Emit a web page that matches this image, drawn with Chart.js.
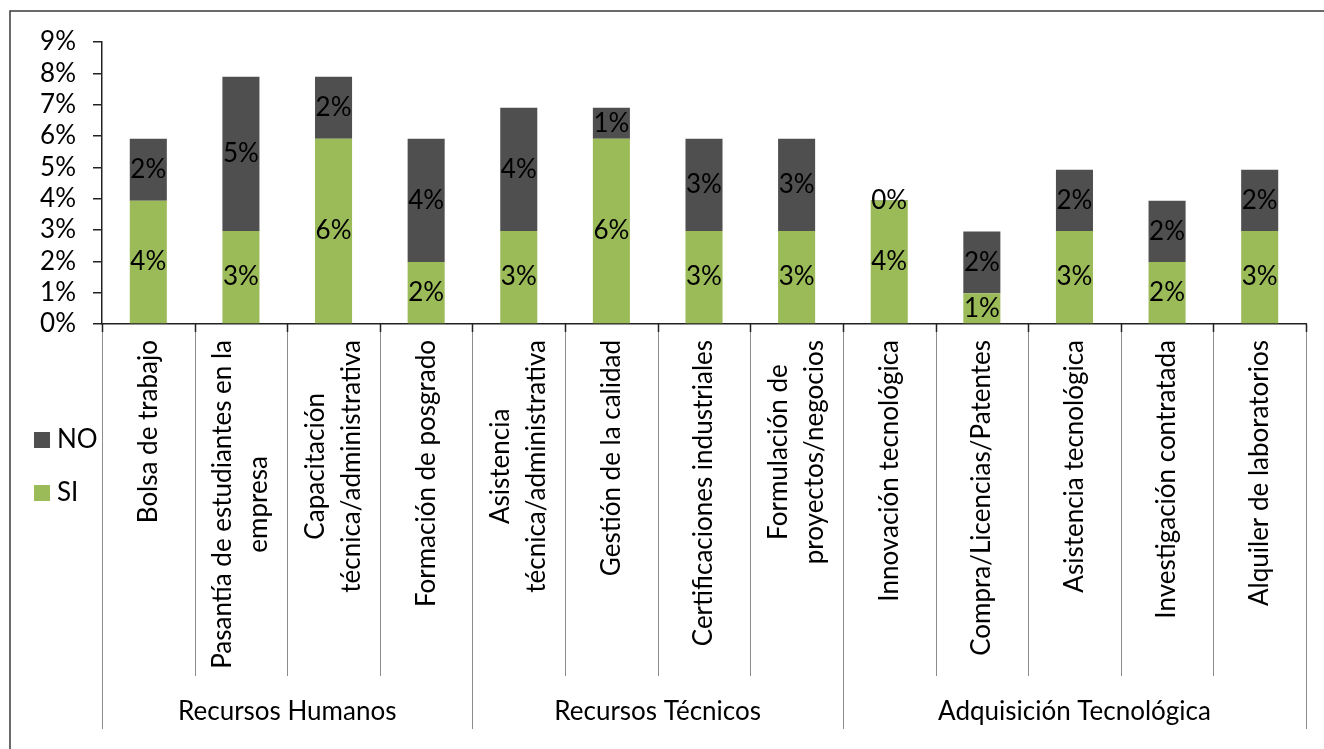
<!DOCTYPE html>
<html>
<head>
<meta charset="utf-8">
<script src="https://cdn.jsdelivr.net/npm/chart.js@4/dist/chart.umd.min.js"></script>
<style>
  html, body { margin: 0; padding: 0; background: #fff; }
  #caja { width: 1324px; height: 749px; }
</style>
</head>
<body>
<div id="caja"><canvas id="grafico"></canvas></div>
<script>
// Categorías (cada una en líneas, como en el eje original)
const categorias = [
  ['Bolsa de trabajo'],
  ['Pasantía de estudiantes en la', 'empresa'],
  ['Capacitación', 'técnica/administrativa'],
  ['Formación de posgrado'],
  ['Asistencia', 'técnica/administrativa'],
  ['Gestión de la calidad'],
  ['Certificaciones industriales'],
  ['Formulación de', 'proyectos/negocios'],
  ['Innovación tecnológica'],
  ['Compra/Licencias/Patentes'],
  ['Asistencia tecnológica'],
  ['Investigación contratada'],
  ['Alquiler de laboratorios']
]

const grupos = ['Recursos Humanos', 'Recursos Técnicos', 'Adquisición Tecnológica']
const inicioGrupos = [0, 4, 8, 13]

const valoresSI = [3.93, 2.97, 5.91, 1.98, 2.97, 5.91, 2.97, 2.97, 3.94, 0.98, 2.97, 1.98, 2.97]
const valoresNO = [1.98, 4.92, 1.98, 3.93, 3.93, 0.99, 2.94, 2.94, 0.02, 1.97, 1.95, 1.95, 1.95]

const ticksY = [0, 1, 2, 3, 4, 5, 6, 7, 8, 9]

const colorSI = '#9BBB59'
const colorNO = '#4F4F4F'
const fuente = 'Lato, "Open Sans", sans-serif'
const tamFuente = 26

// Marco, separadores del eje, etiquetas giradas, grupos y leyenda
const pluginDecorado = {
  id: 'decorado',
  beforeDraw(chart) {
    const ctx = chart.ctx
    ctx.save()
    ctx.strokeStyle = '#3a3a3a'
    ctx.lineWidth = 1.5
    ctx.beginPath()
    ctx.moveTo(10, 749)
    ctx.lineTo(10, 11)
    ctx.lineTo(1324, 11)
    ctx.stroke()
    ctx.restore()
  },
  afterDraw(chart) {
    const ctx = chart.ctx
    const x = chart.scales.x
    const area = chart.chartArea
    const base = area.bottom

    ctx.save()
    // separadores
    for (let i = 0; i <= categorias.length; i++) {
      const px = Math.round(x.getPixelForValue(i - 0.5)) + 0.5
      const esGrupo = inicioGrupos.includes(i)
      ctx.strokeStyle = '#8c8c8c'
      ctx.lineWidth = 1
      ctx.beginPath()
      ctx.moveTo(px, base)
      ctx.lineTo(px, esGrupo ? 729 : 676)
      ctx.stroke()
      ctx.strokeStyle = '#222'
      ctx.lineWidth = 1.5
      ctx.beginPath()
      ctx.moveTo(px, base)
      ctx.lineTo(px, base + 8)
      ctx.stroke()
    }

    // etiquetas de categoría giradas
    ctx.fillStyle = '#000'
    ctx.font = tamFuente + 'px ' + fuente
    ctx.textBaseline = 'middle'
    ctx.textAlign = 'center'
    const altoLinea = 36
    categorias.forEach((lineas, i) => {
      const cx = x.getPixelForValue(i)
      const anchoMax = Math.max(...lineas.map(l => ctx.measureText(l).width))
      ctx.save()
      ctx.translate(cx, base + 16)
      ctx.rotate(-Math.PI / 2)
      lineas.forEach((l, j) => {
        ctx.fillText(l, -anchoMax / 2, (j - (lineas.length - 1) / 2) * altoLinea)
      })
      ctx.restore()
    })

    // nombres de grupo
    grupos.forEach((g, k) => {
      const a = x.getPixelForValue(inicioGrupos[k] - 0.5)
      const b = x.getPixelForValue(inicioGrupos[k + 1] - 0.5)
      ctx.fillText(g, (a + b) / 2, 712)
    })

    // leyenda
    ctx.textAlign = 'left'
    ctx.fillStyle = colorNO
    ctx.fillRect(34, 432, 16, 16)
    ctx.fillStyle = colorSI
    ctx.fillRect(34, 485, 16, 16)
    ctx.fillStyle = '#000'
    ctx.fillText('NO', 57, 440)
    ctx.fillText('SI', 57, 493)
    ctx.restore()
  }
}

// Etiquetas de datos centradas en cada tramo
const pluginEtiquetas = {
  id: 'etiquetas',
  afterDatasetsDraw(chart) {
    const ctx = chart.ctx
    ctx.save()
    ctx.fillStyle = '#000'
    ctx.font = tamFuente + 'px ' + fuente
    ctx.textAlign = 'center'
    ctx.textBaseline = 'middle'
    chart.data.datasets.forEach((ds, d) => {
      chart.getDatasetMeta(d).data.forEach((el, i) => {
        const texto = Math.round(ds.data[i]) + '%'
        ctx.fillText(texto, el.x, (el.y + el.base) / 2)
      })
    })
    ctx.restore()
  }
}

new Chart(document.getElementById('grafico').getContext('2d'), {
  type: 'bar',
  data: {
    labels: categorias.map(c => c.join(' ')),
    datasets: [
      { label: 'SI', data: valoresSI, backgroundColor: colorSI, barPercentage: 0.4, categoryPercentage: 1 },
      { label: 'NO', data: valoresNO, backgroundColor: colorNO, barPercentage: 0.4, categoryPercentage: 1 }
    ]
  },
  options: {
    responsive: true,
    maintainAspectRatio: false,
    animation: false,
    layout: { padding: { top: 42, right: 18, left: 0, bottom: 0 } },
    plugins: { legend: { display: false }, tooltip: { enabled: false } },
    scales: {
      x: {
        stacked: true,
        ticks: { display: false },
        grid: { display: false },
        border: { color: '#222', width: 1.5 },
        afterFit(scale) { scale.height = 425 }
      },
      y: {
        stacked: true,
        min: 0,
        max: 9,
        afterBuildTicks(scale) { scale.ticks = ticksY.map(v => ({ value: v })) },
        ticks: {
          color: '#000',
          padding: 17,
          autoSkip: false,
          font: { family: fuente, size: tamFuente },
          callback: v => v + '%'
        },
        grid: { drawOnChartArea: false, tickLength: 9, color: '#222', lineWidth: 1.5 },
        border: { color: '#222', width: 1.5 },
        afterFit(scale) { scale.width = 102 }
      }
    }
  },
  plugins: [pluginDecorado, pluginEtiquetas]
})
</script>
</body>
</html>
